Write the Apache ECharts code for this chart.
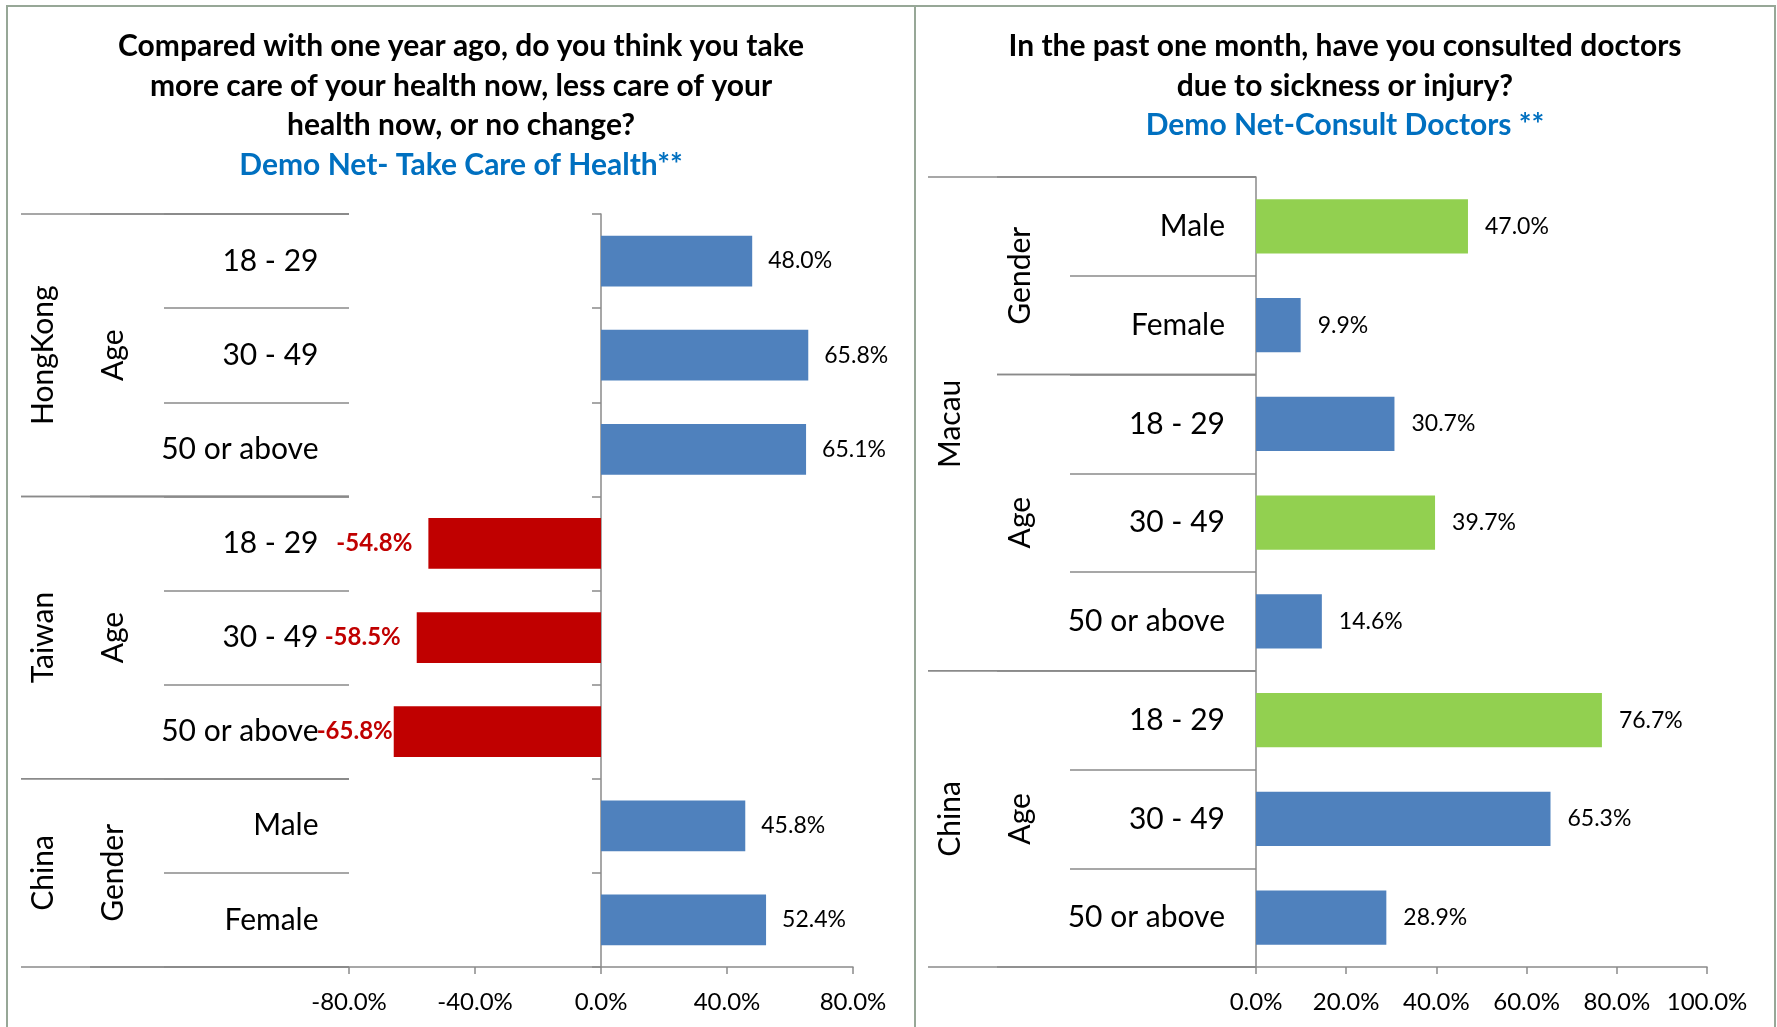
<!DOCTYPE html>
<html>
<head>
<meta charset="utf-8">
<script src="https://cdn.jsdelivr.net/npm/echarts@6/dist/echarts.min.js"></script>
<style>
html,body{margin:0;padding:0;background:#ffffff;}
#chart{width:1777px;height:1027px;}
</style>
</head>
<body>
<div id="chart"></div>
<script>
// ---------------- data ----------------
const leftTitleText = 'Compared with one year ago, do you think you take\nmore care of your health now, less care of your\nhealth now, or no change?';
const leftSubtitleText = 'Demo Net- Take Care of Health**';
const leftCategories = ['18 - 29', '30 - 49', '50 or above', '18 - 29', '30 - 49', '50 or above', 'Male', 'Female'];
const leftValues = [48.0, 65.8, 65.1, -54.8, -58.5, -65.8, 45.8, 52.4];
// [first row, row count, level, label]
const leftGroups = [
  [0, 3, 1, 'HongKong'], [0, 3, 2, 'Age'],
  [3, 3, 1, 'Taiwan'],   [3, 3, 2, 'Age'],
  [6, 2, 1, 'China'],    [6, 2, 2, 'Gender']
];
const leftTickValues = [-80, -40, 0, 40, 80];

const rightTitleText = 'In the past one month, have you consulted doctors\ndue to sickness or injury?';
const rightSubtitleText = 'Demo Net-Consult Doctors **';
const rightCategories = ['Male', 'Female', '18 - 29', '30 - 49', '50 or above', '18 - 29', '30 - 49', '50 or above'];
const rightValues = [47.0, 9.9, 30.7, 39.7, 14.6, 76.7, 65.3, 28.9];
const rightHighlighted = [true, false, false, true, false, true, false, false];
const rightGroups = [
  [0, 5, 1, 'Macau'], [0, 2, 2, 'Gender'], [2, 3, 2, 'Age'],
  [5, 3, 1, 'China'], [5, 3, 2, 'Age']
];
const rightTickValues = [0, 20, 40, 60, 80, 100];

// ---------------- styles ----------------
const FONT = 'Lato';
const LINE = '#8a8a8a';
const BLUE = '#4F81BD';
const RED = '#C00000';
const GREEN = '#92D050';
const TITLE_BLUE = '#0070C0';
const CAT_SIZE = 30;
const VAL_SIZE = 23;
const TITLE_LH = 39.5;

const pct = v => v.toFixed(1) + '%';

function groupSeries(groups, xMin, axisIdx) {
  return {
    type: 'custom',
    xAxisIndex: axisIdx,
    yAxisIndex: axisIdx === 0 ? 0 : 2,
    silent: true,
    clip: false,
    z: 5,
    encode: { x: 0, y: 1 },
    data: groups.map(g => [xMin, g[0], g[1], g[2]]),
    renderItem: function (params, api) {
      const g = groups[params.dataIndex];
      const band = api.size([0, 1])[1];
      const c = api.coord([xMin, g[0]]);
      const top = c[1] - band / 2;
      const bottom = top + g[1] * band;
      const x0 = c[0];
      const lineFrom = x0 - (g[2] === 1 ? 328 : 259);
      const textX = x0 - (g[2] === 1 ? 306 : 236);
      const ls = { stroke: LINE, lineWidth: 1.5 };
      return {
        type: 'group',
        children: [
          { type: 'line', shape: { x1: lineFrom, y1: top, x2: x0, y2: top }, style: ls },
          { type: 'line', shape: { x1: lineFrom, y1: bottom, x2: x0, y2: bottom }, style: ls },
          {
            type: 'text', x: textX, y: (top + bottom) / 2, rotation: Math.PI / 2,
            style: { text: g[3], fill: '#000', fontFamily: FONT, fontSize: CAT_SIZE, align: 'center', verticalAlign: 'middle' }
          }
        ]
      };
    }
  };
}

function valueAxis(gridIndex, ticks) {
  return {
    type: 'value', gridIndex: gridIndex,
    min: ticks[0], max: ticks[ticks.length - 1], interval: ticks[1] - ticks[0],
    axisLine: { show: true, lineStyle: { color: LINE, width: 1.5 } },
    axisTick: { show: true, length: 7, lineStyle: { color: LINE, width: 1.5 } },
    splitLine: { show: false },
    axisLabel: { color: '#000', fontFamily: FONT, fontSize: 24, margin: 23, formatter: pct }
  };
}

const leftData = leftValues.map((v, i) => {
  const neg = v < 0;
  return {
    value: v,
    itemStyle: { color: neg ? RED : BLUE },
    label: neg
      ? { position: 'left', color: RED, fontWeight: 'bold', fontSize: 24, distance: (i === 5 ? 1 : 16) }
      : { position: 'right', color: '#000', fontSize: VAL_SIZE, distance: 16 }
  };
});

const rightData = rightValues.map((v, i) => ({
  value: v,
  itemStyle: { color: rightHighlighted[i] ? GREEN : BLUE }
}));

const option = {
  animation: false,
  backgroundColor: '#ffffff',
  textStyle: { fontFamily: FONT },
  title: [
    {
      text: leftTitleText, subtext: leftSubtitleText,
      left: 461, top: 27, textAlign: 'center', padding: 0, itemGap: 0,
      textStyle: { fontFamily: FONT, fontWeight: 'bold', fontSize: 30, lineHeight: TITLE_LH, color: '#000' },
      subtextStyle: { fontFamily: FONT, fontWeight: 'bold', fontSize: 30, lineHeight: TITLE_LH, color: TITLE_BLUE }
    },
    {
      text: rightTitleText, subtext: rightSubtitleText,
      left: 1345, top: 27, textAlign: 'center', padding: 0, itemGap: 0,
      textStyle: { fontFamily: FONT, fontWeight: 'bold', fontSize: 30, lineHeight: TITLE_LH, color: '#000' },
      subtextStyle: { fontFamily: FONT, fontWeight: 'bold', fontSize: 30, lineHeight: TITLE_LH, color: TITLE_BLUE }
    }
  ],
  graphic: [
    { type: 'rect', silent: true, z: -1, shape: { x: 7, y: 6, width: 908, height: 1100 }, style: { fill: 'none', stroke: '#97A797', lineWidth: 2 } },
    { type: 'rect', silent: true, z: -1, shape: { x: 915, y: 6, width: 860, height: 1100 }, style: { fill: 'none', stroke: '#97A797', lineWidth: 2 } }
  ],
  grid: [
    { left: 349, top: 214, width: 504, height: 753, outerBoundsMode: 'none' },
    { left: 1256, top: 177, width: 451, height: 790, outerBoundsMode: 'none' }
  ],
  xAxis: [valueAxis(0, leftTickValues), valueAxis(1, rightTickValues)],
  yAxis: [
    { // left main axis (at zero)
      type: 'category', gridIndex: 0, data: leftCategories, inverse: true,
      axisLine: { show: true, onZero: true, lineStyle: { color: LINE, width: 1.5 } },
      axisTick: { show: true, length: 9, lineStyle: { color: LINE, width: 1.5 } },
      axisLabel: { show: false }
    },
    { // left label axis (at plot edge)
      type: 'category', gridIndex: 0, data: leftCategories, inverse: true, position: 'left',
      axisLine: { show: false, onZero: false },
      axisTick: { show: true, length: 185, lineStyle: { color: LINE, width: 1.5 } },
      axisLabel: { show: true, color: '#000', fontFamily: FONT, fontSize: CAT_SIZE, margin: 30.5 }
    },
    { // right axis
      type: 'category', gridIndex: 1, data: rightCategories, inverse: true,
      axisLine: { show: true, lineStyle: { color: LINE, width: 1.5 } },
      axisTick: { show: true, length: 186, lineStyle: { color: LINE, width: 1.5 } },
      axisLabel: { show: true, color: '#000', fontFamily: FONT, fontSize: CAT_SIZE, margin: 31 }
    }
  ],
  series: [
    {
      type: 'bar', xAxisIndex: 0, yAxisIndex: 0, data: leftData, barCategoryGap: '46%',
      label: { show: true, fontFamily: FONT, formatter: p => pct(p.value) }
    },
    {
      type: 'bar', xAxisIndex: 1, yAxisIndex: 2, data: rightData, barCategoryGap: '45%',
      label: { show: true, position: 'right', distance: 17, color: '#000', fontFamily: FONT, fontSize: VAL_SIZE, formatter: p => pct(p.value) }
    },
    groupSeries(leftGroups, leftTickValues[0], 0),
    groupSeries(rightGroups, rightTickValues[0], 1)
  ]
};

const chart = echarts.init(document.getElementById('chart'), null, { renderer: 'canvas' });
chart.setOption(option);
</script>
</body>
</html>
